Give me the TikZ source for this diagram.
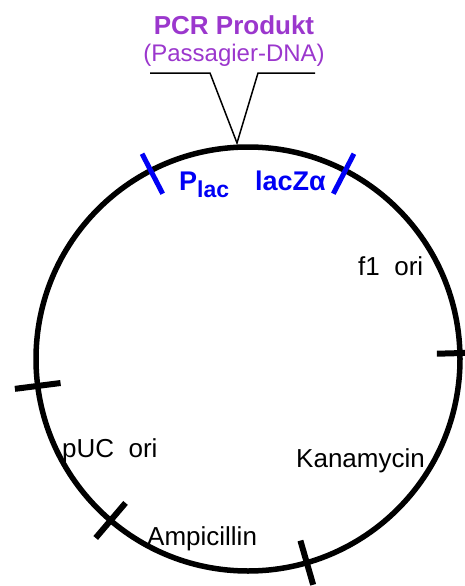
\documentclass[tikz,border=0pt]{standalone}
\usepackage{fontspec}
\setmainfont{Liberation Sans}
\usepackage{tikz}
\usetikzlibrary{calc}
\definecolor{pcrpurple}{RGB}{155,55,205}
\definecolor{lacblue}{RGB}{0,0,245}

\begin{document}
\begin{tikzpicture}[x=1pt,y=-1pt,
  lbl/.style={font=\fontsize{26}{30}\selectfont,inner sep=0pt,anchor=base west},
  cutmark/.style={line width=6pt},
  bluemark/.style={line width=5pt,lacblue}]
\useasboundingbox (0,0) rectangle (465,586);
\coordinate (c) at (248,359);
% plasmid backbone
\draw[line width=5.5pt] (c) circle[radius=212];
\foreach \a in {172.7,-1.6,73.9,130.4}
  \draw[cutmark] ($(c)+(\a:189)$) -- ($(c)+(\a:235)$);
\foreach \a in {-117.3,-62.7}
  \draw[bluemark] ($(c)+(\a:186)$) -- ($(c)+(\a:231)$);
% insert
\node[lbl,font=\fontsize{26}{30}\selectfont\bfseries,text=pcrpurple,anchor=base] (pcr) at (234,35) {PCR Produkt};
\node[lbl,font=\fontsize{24}{28}\selectfont,text=pcrpurple,anchor=base] (dna) at (234,62) {(Passagier-DNA)};
\coordinate (tip) at (237,143);
\draw[line width=1.5pt] (150,73) -- (210,73) -- (tip) -- (258,73) -- (315,73);
% features
\node[lbl,font=\fontsize{27}{30}\selectfont\bfseries,text=lacblue] (plac) at (179,190) {P\raisebox{-7pt}{\fontsize{23}{26}\selectfont lac}};
\node[lbl,font=\fontsize{27}{30}\selectfont\bfseries,text=lacblue] (lacz) at (255,190) {lacZα};
\node[lbl] (f1) at (358,275) {f1\ \ ori};
\node[lbl] (puc) at (62,457) {pUC\ \ ori};
\node[lbl] (kan) at (296,467) {Kanamycin};
\node[lbl] (amp) at (147,545) {Ampicillin};
\end{tikzpicture}
\end{document}
